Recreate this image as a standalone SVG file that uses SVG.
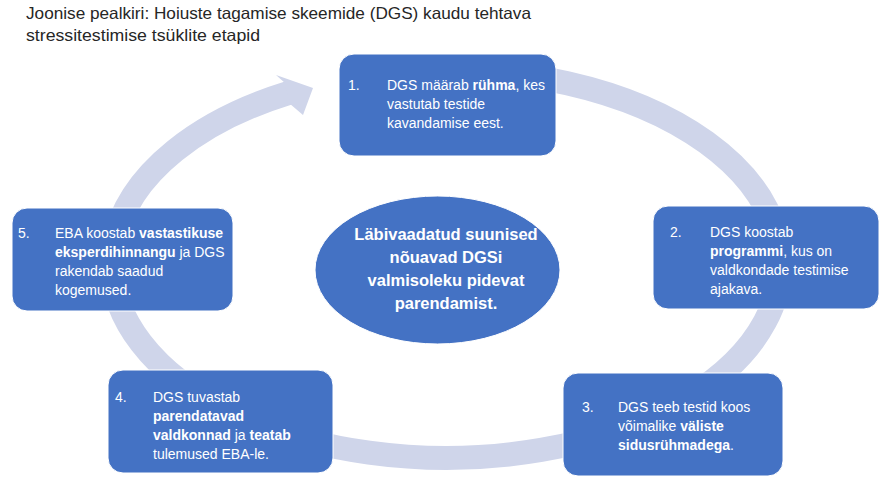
<svg xmlns="http://www.w3.org/2000/svg" width="888" height="485" viewBox="0 0 888 485">
<style>
.title{font-family:"Liberation Sans",Arial,sans-serif;font-size:16.5px;fill:#262626}
.box{fill:#4472C4;stroke:#FFFFFF;stroke-width:1}
.t{font-family:"Liberation Sans",Arial,sans-serif;font-size:14px;fill:#FFFFFF}
.b{font-weight:bold}
.ct{font-family:"Liberation Sans",Arial,sans-serif;font-size:16.5px;font-weight:bold;fill:#FFFFFF;text-anchor:middle}
.ring{fill:none;stroke:#CFD5EA;stroke-width:24}
</style>
<rect width="888" height="485" fill="#FFFFFF"/>
<g id="title">
<text class="title" x="26" y="19" textLength="505" lengthAdjust="spacingAndGlyphs">Joonise pealkiri: Hoiuste tagamise skeemide (DGS) kaudu tehtava</text>
<text class="title" x="26" y="41" textLength="234" lengthAdjust="spacingAndGlyphs">stressitestimise tsüklite etapid</text>
</g>
<g id="connectors">
<path class="ring" d="M 416.9 70.7 A 334 194 0 1 1 289.2 92.7"/>
<polygon points="283.6,81.8 276,75 313,88 303,115 291,104.8" fill="#CFD5EA"/>
</g>
<g id="center">
<ellipse cx="437.5" cy="270" rx="122.5" ry="74" class="box"/>
<text class="ct" x="446" y="240">Läbivaadatud suunised</text>
<text class="ct" x="446" y="263">nõuavad DGSi</text>
<text class="ct" x="446" y="286">valmisoleku pidevat</text>
<text class="ct" x="446" y="309">parendamist.</text>
</g>
<g id="step1">
<rect class="box" x="339" y="54" width="217" height="102" rx="15"/>
<text class="t" x="348" y="90">1.</text>
<text class="t" x="387" y="90">DGS määrab <tspan class="b">rühma</tspan>, kes</text>
<text class="t" x="387" y="109">vastutab testide</text>
<text class="t" x="387" y="128">kavandamise eest.</text>
</g>
<g id="step2">
<rect class="box" x="653" y="206" width="226" height="103" rx="15"/>
<text class="t" x="670" y="237">2.</text>
<text class="t" x="710" y="237">DGS koostab</text>
<text class="t" x="710" y="256"><tspan class="b">programmi</tspan>, kus on</text>
<text class="t" x="710" y="275">valdkondade testimise</text>
<text class="t" x="710" y="294">ajakava.</text>
</g>
<g id="step3">
<rect class="box" x="563" y="373" width="220" height="103" rx="15"/>
<text class="t" x="582" y="412">3.</text>
<text class="t" x="618" y="412">DGS teeb testid koos</text>
<text class="t" x="618" y="431">võimalike <tspan class="b">väliste</tspan></text>
<text class="t" x="618" y="450"><tspan class="b">sidusrühmadega</tspan>.</text>
</g>
<g id="step4">
<rect class="box" x="108" y="370" width="225" height="103" rx="15"/>
<text class="t" x="115" y="402">4.</text>
<text class="t" x="153" y="402">DGS tuvastab</text>
<text class="t" x="153" y="421"><tspan class="b">parendatavad</tspan></text>
<text class="t" x="153" y="440"><tspan class="b">valdkonnad</tspan> ja <tspan class="b">teatab</tspan></text>
<text class="t" x="153" y="459">tulemused EBA-le.</text>
</g>
<g id="step5">
<rect class="box" x="12" y="208" width="221" height="103" rx="15"/>
<text class="t" x="18" y="238">5.</text>
<text class="t" x="55" y="238">EBA koostab <tspan class="b">vastastikuse</tspan></text>
<text class="t" x="55" y="257"><tspan class="b">eksperdihinnangu</tspan> ja DGS</text>
<text class="t" x="55" y="276">rakendab saadud</text>
<text class="t" x="55" y="295">kogemused.</text>
</g>
</svg>
